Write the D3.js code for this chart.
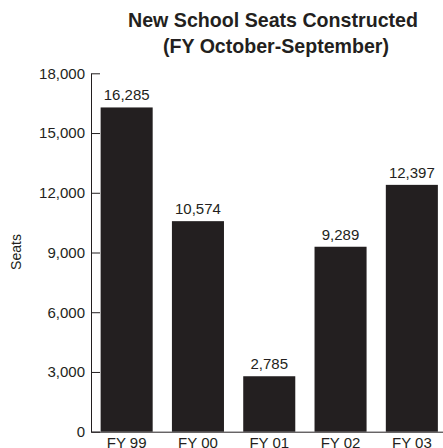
<!DOCTYPE html>
<html>
<head>
<meta charset="utf-8">
<script src="https://cdn.jsdelivr.net/npm/d3@7"></script>
<style>
  body { margin: 0; background: #fff; }
  text { font-family: "Liberation Sans", Arial, sans-serif; fill: #231f20; }
</style>
</head>
<body>
<svg id="chart" width="443" height="448"></svg>
<script>
var years = ["FY 99", "FY 00", "FY 01", "FY 02", "FY 03"];
var seats = [16285, 10574, 2785, 9289, 12397];
var yTicks = [0, 3000, 6000, 9000, 12000, 15000, 18000];

var data = years.map(function (d, i) { return {year: d, value: seats[i]}; });

var svg = d3.select("#chart");
var ink = "#231f20";

var x = d3.scaleBand()
    .domain(years)
    .range([91, 447.5])
    .paddingInner(0.27)
    .paddingOuter(0.135);

var y = d3.scaleLinear()
    .domain([0, 18000])
    .range([431.7, 73.3]);

// title (condensed a bit to match the original face)
svg.append("text")
    .attr("x", 273).attr("y", 27)
    .attr("text-anchor", "middle")
    .attr("textLength", 290).attr("lengthAdjust", "spacingAndGlyphs")
    .style("font-size", "21px").style("font-weight", "bold")
    .text("New School Seats Constructed");
svg.append("text")
    .attr("x", 276).attr("y", 52.5)
    .attr("text-anchor", "middle")
    .attr("textLength", 226).attr("lengthAdjust", "spacingAndGlyphs")
    .style("font-size", "21px").style("font-weight", "bold")
    .text("(FY October-September)");

// y axis title
svg.append("text")
    .attr("transform", "translate(21,252) rotate(-90)")
    .attr("text-anchor", "middle")
    .style("font-size", "14px")
    .text("Seats");

// bars
svg.selectAll("rect.bar").data(data).enter()
    .append("rect")
    .attr("class", "bar")
    .attr("x", function (d) { return x(d.year); })
    .attr("y", function (d) { return y(d.value); })
    .attr("width", x.bandwidth())
    .attr("height", function (d) { return y(0) - y(d.value); })
    .attr("fill", ink);

// value labels
svg.selectAll("text.val").data(data).enter()
    .append("text")
    .attr("class", "val")
    .attr("x", function (d) { return x(d.year) + x.bandwidth() / 2; })
    .attr("y", function (d) { return y(d.value) - 7; })
    .attr("text-anchor", "middle")
    .style("font-size", "15px")
    .text(function (d) { return d3.format(",")(d.value); });

// y axis
var yAxis = svg.append("g")
    .attr("transform", "translate(91,0)")
    .call(d3.axisLeft(y).tickValues(yTicks).tickSize(-9).tickSizeOuter(0).tickPadding(6).tickFormat(d3.format(",")));
yAxis.selectAll("path, line").attr("stroke", ink);
yAxis.selectAll("text").style("font-size", "15px").attr("fill", ink);

// x axis
var xAxis = svg.append("g")
    .attr("transform", "translate(0," + y(0) + ")")
    .call(d3.axisBottom(x).tickSize(0).tickSizeOuter(0).tickPadding(5.5));
xAxis.select("path").attr("stroke", ink);
xAxis.selectAll("text").style("font-size", "15px").attr("fill", ink);
</script>
</body>
</html>
